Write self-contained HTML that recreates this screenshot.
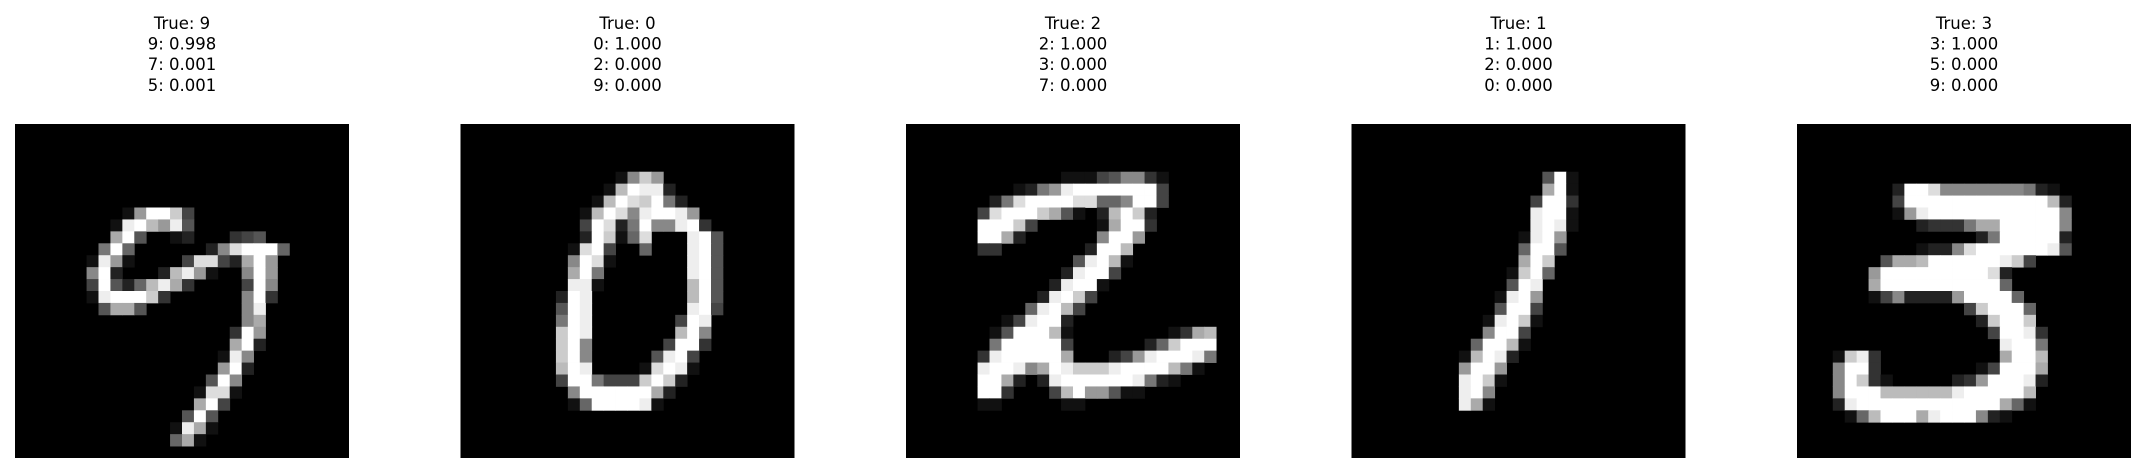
<!DOCTYPE html>
<html><head><meta charset="utf-8"><style>
html,body{margin:0;padding:0;background:#fff;}
svg{display:block;}
text{font-family:"DejaVu Sans","Liberation Sans",sans-serif;font-size:16.5px;fill:#000;}
</style></head><body>
<svg id="fig" width="2145" height="473" viewBox="0 0 2145 473" xmlns="http://www.w3.org/2000/svg"></svg>
<script>
const trueLabels = [9, 0, 2, 1, 3];
const topClasses = [[9,7,5],[0,2,9],[2,3,7],[1,2,0],[3,5,9]];
const topProbs = [[0.998,0.001,0.001],[1.000,0.000,0.000],[1.000,0.000,0.000],[1.000,0.000,0.000],[1.000,0.000,0.000]];
// sparse digit images: [row, startCol, hex intensities]
const img0 = [[7,9,"19ffc4"],[8,8,"1efb9e5"],[9,8,"af50012000345"],[10,7,"7f600000028dfff6"],[11,6,"1e9100004dd42af9"],[12,6,"8f20002be91008f9"],[13,6,"4f526bea300004f8"],[14,6,"1efffc30000008f3"],[15,7,"5aa5000000008e"],[16,19,"8a"],[17,18,"3f9"],[18,18,"af2"],[19,17,"1e8"],[20,17,"9f2"],[21,16,"5f8"],[22,15,"1dd1"],[23,15,"af4"],[24,14,"5f5"],[25,13,"1ea1"],[26,13,"6a1"]];
const img1 = [[4,13,"18c9"],[5,12,"1bfee2"],[6,11,"1bfdcf72"],[7,10,"1bfd8effe9"],[8,10,"4fd27f88ef3"],[9,10,"2fc16d000ef5"],[10,9,"1df4006000ef5"],[11,9,"8fd1000000ef5"],[12,9,"af70000000ef5"],[13,9,"ee10000000bf5"],[14,8,"2fe00000000bf5"],[15,8,"5fe00000000ef4"],[16,8,"7fe00000004fe"],[17,8,"cfe0000000bf8"],[18,8,"cf80000004ff3"],[19,8,"cf8000005ef4"],[20,8,"bfe00001dfe1"],[21,8,"4ff7444cfc2"],[22,9,"8ffffffa2"],[23,9,"16ffffe1"]];
const img2 = [[4,13,"111458831"],[5,9,"1279efffffff4"],[6,7,"27dffffdd668ff4"],[7,6,"4dfffca5102bfc2"],[8,6,"fffc4000001aff3"],[9,6,"ffa20000008ff9"],[10,6,"3300000002ffb"],[11,14,"5efb1"],[12,13,"2eff4"],[13,12,"2eff1"],[14,11,"2efc4"],[15,10,"6efb4"],[16,8,"14eff2"],[17,7,"15fffb10000000013ab"],[18,7,"7fffff400000026cfff"],[19,6,"3efffffa000249efffe7"],[20,6,"effe8afeccceffffb71"],[21,6,"ffa202effffffe721"],[22,6,"ff30004bf99511"],[23,6,"110000011"]];
const img3 = [[4,16,"5f1"],[5,16,"af1"],[6,15,"4ff3"],[7,15,"eff1"],[8,15,"efe1"],[9,14,"1ef9"],[10,14,"6ff5"],[11,14,"afc"],[12,13,"1cf6"],[13,13,"5fe"],[14,12,"1ef9"],[15,12,"5ff4"],[16,11,"1efc1"],[17,11,"8ff4"],[18,10,"6ffb1"],[19,9,"1bfe2"],[20,9,"9ff9"],[21,9,"efc1"],[22,9,"ef8"],[23,9,"ea1"]];
const img4 = [[5,8,"2ffd8888888721"],[6,8,"4ffffffffffffb2"],[7,8,"19efffffffffff8"],[8,10,"23337aafffff8"],[9,15,"27fffff2"],[10,10,"1228dffffffe5"],[11,7,"5aabffffffec4"],[12,6,"9fffffffffd2"],[13,6,"affffffffff6"],[14,6,"14822229ffff6"],[15,14,"4cfff6"],[16,15,"2cffc"],[17,16,"4ffe3"],[18,17,"eff7"],[19,3,"1ce30000000000affb"],[20,3,"8ff30000000014fffa"],[21,3,"8fc3100000239fffe2"],[22,3,"8fffbbbbbbefffffb"],[23,3,"2effffffffffffa61"],[24,4,"16bfffaefff821"]];
const images = [img0, img1, img2, img3, img4];

const NS = "http://www.w3.org/2000/svg";
const svg = document.getElementById('fig');
const panelX = i => 15 + i * 445.5;
const top0 = 124, size = 334, px = size / 28;

images.forEach((img, i) => {
  const g = document.createElementNS(NS, 'g');
  
  
  svg.appendChild(g);
  const x0 = panelX(i);
  const bg = document.createElementNS(NS, 'rect');
  
  
  bg.setAttribute('x', x0); bg.setAttribute('y', top0);
  bg.setAttribute('width', size); bg.setAttribute('height', size);
  bg.setAttribute('fill', '#000');
  g.appendChild(bg);
  img.forEach(([r, c, s]) => {
    for (let k = 0; k < s.length; k++) {
      const v = parseInt(s[k], 16) * 17;
      if (!v) continue;
      const p = document.createElementNS(NS, 'rect');
      
      
      p.setAttribute('x', (x0 + (c + k) * px).toFixed(2));
      p.setAttribute('y', (top0 + r * px).toFixed(2));
      p.setAttribute('width', (px + 0.4).toFixed(2));
      p.setAttribute('height', (px + 0.4).toFixed(2));
      p.setAttribute('fill', `rgb(${v},${v},${v})`);
      g.appendChild(p);
    }
  });
  const lines = ['True: ' + trueLabels[i]].concat(topClasses[i].map((c, j) => c + ': ' + topProbs[i][j].toFixed(3)));
  lines.forEach((t, j) => {
    const tx = document.createElementNS(NS, 'text');
    
    
    tx.setAttribute('x', x0 + size / 2);
    tx.setAttribute('y', 29 + j * 20.6);
    tx.setAttribute('text-anchor', 'middle');
    tx.textContent = t;
    g.appendChild(tx);
  });
});
</script>
</body></html>
